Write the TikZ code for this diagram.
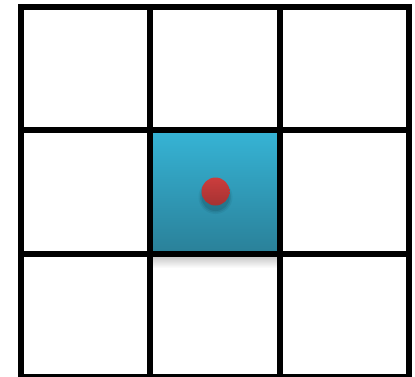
\documentclass[tikz,border=0pt]{standalone}
\usepackage{tikz}
\definecolor{celltop}{HTML}{36B4D6}
\definecolor{cellbot}{HTML}{2A8098}
\definecolor{dottop}{HTML}{CB3D3D}
\definecolor{dotbot}{HTML}{A53232}
\begin{document}
\begin{tikzpicture}[
  x=1pt,y=-1pt,
  gridline/.style={line width=6pt,black},
  cell/.style={top color=celltop,bottom color=cellbot,draw=none},
  dot/.style={circle,inner sep=0pt,minimum size=28pt,top color=dottop,bottom color=dotbot,draw=none}
]
\useasboundingbox (0,0) rectangle (415,376);
% shadow under the centre cell
\shade[top color=black!22,bottom color=white] (153,256) rectangle (277,268);
\fill[cell] (150,130) rectangle (280,254);
% shadow under the dot
\foreach \r/\o in {17/0.05,15.5/0.07,14/0.09}
  \fill[black,opacity=\o] (215.5,197) circle (\r);
\node[dot] (d) at (215.5,191.5) {};
% grid
\draw[gridline] (21,7) rectangle (409,377);
\foreach \x in {150,280}
  \draw[gridline] (\x,7) -- (\x,377);
\foreach \y in {130,254}
  \draw[gridline] (21,\y) -- (409,\y);
\end{tikzpicture}
\end{document}
